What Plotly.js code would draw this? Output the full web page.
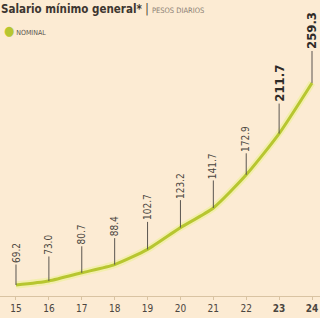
<!DOCTYPE html>
<html><head><meta charset="utf-8">
<script src="https://cdn.plot.ly/plotly-3.0.1.min.js"></script>
<style>html,body{margin:0;padding:0;background:#fcebd3;}#chart{width:320px;height:318px;}</style>
</head><body><div id="chart"></div>
<script>
var years = [15, 16, 17, 18, 19, 20, 21, 22, 23, 24];
var tickLabels = ["15", "16", "17", "18", "19", "20", "21", "22", "<b>23</b>", "<b>24</b>"];
var nominal = [69.2, 73.0, 80.7, 88.4, 102.7, 123.2, 141.7, 172.9, 211.7, 259.3];
var valueLabels = ["69.2", "73.0", "80.7", "88.4", "102.7", "123.2", "141.7", "172.9", "211.7", "259.3"];
var labelOffsets = [-32, -36, -38, -38, -42, -42, -42, -36, -50, -52];

var lineColor = '#b7c630';
var font = 'DejaVu Sans Condensed, Liberation Sans Narrow, sans-serif';

var traces = [
  {x: years, y: nominal, mode: 'lines', line: {color: 'rgba(235,240,140,0.55)', width: 7, shape: 'spline', smoothing: 0.6}, hoverinfo: 'skip', showlegend: false},
  {x: years, y: nominal, mode: 'lines', line: {color: lineColor, width: 3, shape: 'spline', smoothing: 0.6}, name: 'NOMINAL', showlegend: false}
];

var annotations = years.map(function (yr, i) {
  var big = i >= 8;
  return {
    x: yr, y: nominal[i], xref: 'x', yref: 'y',
    text: big ? '<b>' + valueLabels[i] + '</b>' : valueLabels[i],
    textangle: -90, showarrow: true, arrowhead: 0, arrowwidth: 1, arrowcolor: '#5a5550',
    ax: 0, ay: labelOffsets[i], standoff: 0,
    font: {family: font, size: big ? 13 : 10, color: big ? '#2e2a27' : '#4a4540'}
  };
});
annotations.push({
  xref: 'paper', yref: 'paper', x: 0.005, y: 1 - 31 / 296, xanchor: 'left', yanchor: 'middle', showarrow: false,
  text: "<span style='color:" + lineColor + ";font-size:13px'>●</span> NOMINAL",
  font: {family: font, size: 7, color: '#5a534c'}
});

var layout = {
  width: 320, height: 318,
  paper_bgcolor: '#fcebd3', plot_bgcolor: '#fcebd3',
  margin: {l: 0, r: 0, t: 0, b: 22},
  showlegend: false,
  title: {
    text: "<b>Salario mínimo general*</b> | <span style='font-size:7.5px;color:#8a7f74'>PESOS DIARIOS</span>",
    font: {family: font, size: 11.5, color: '#3d3630'},
    xref: 'container', yref: 'container', x: 0.003, xanchor: 'left', y: 0.984, yanchor: 'top', pad: {l: 0, t: 0}
  },
  xaxis: {
    range: [14.514, 24.243], tickvals: years, ticktext: tickLabels,
    showgrid: false, zeroline: false, showline: true, linecolor: '#d9c3a2', linewidth: 1,
    ticks: 'outside', ticklen: 3, tickcolor: '#d9c3a2',
    tickfont: {family: font, size: 10, color: '#4a4540'}, fixedrange: true
  },
  yaxis: {range: [58.85, 337.4], visible: false, showgrid: false, zeroline: false, fixedrange: true},
  annotations: annotations
};

Plotly.newPlot('chart', traces, layout, {displayModeBar: false, staticPlot: true});
</script></body></html>
